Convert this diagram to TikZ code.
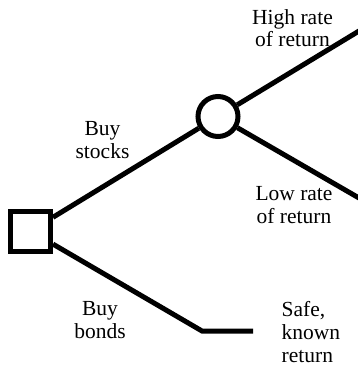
\documentclass[tikz,border=0pt]{standalone}
\usepackage{fontspec}
\setmainfont{Liberation Serif}
\begin{document}
\begin{tikzpicture}[x=1pt,y=-1pt,
  branch/.style={line width=5pt},
  lbl/.style={font=\fontsize{21.5}{22.7}\selectfont, align=center, inner sep=0pt, anchor=base},
  lbll/.style={font=\fontsize{21.5}{22.9}\selectfont, align=left, inner sep=0pt, anchor=base west}]
\useasboundingbox (0,0) rectangle (357,366);
\node[draw, line width=5pt, minimum size=40pt, inner sep=0pt] (sq) at (30.5,231) {};
\node[draw, circle, line width=5pt, minimum size=40pt, inner sep=0pt] (circ) at (218,116.5) {};
\coordinate (hi) at (359,31);
\coordinate (lo) at (359,198);
\coordinate (bk) at (202,331);
\coordinate (be) at (253,331);
\draw[branch] (sq) -- (circ);
\draw[branch] (circ) -- (hi);
\draw[branch] (circ) -- (lo);
\draw[branch] (sq) -- (bk) -- (be);
\node[lbl] (thi) at (292.5,47) {High rate\\of return};
\node[lbl] (tlo) at (294,223.3) {Low rate\\of return};
\node[lbl] (tst) at (102.5,158) {Buy\\stocks};
\node[lbl] (tbo) at (100,338.3) {Buy\\bonds};
\node[lbll] (tsa) at (281.5,362.5) {Safe,\\known\\return};
\end{tikzpicture}
\end{document}
